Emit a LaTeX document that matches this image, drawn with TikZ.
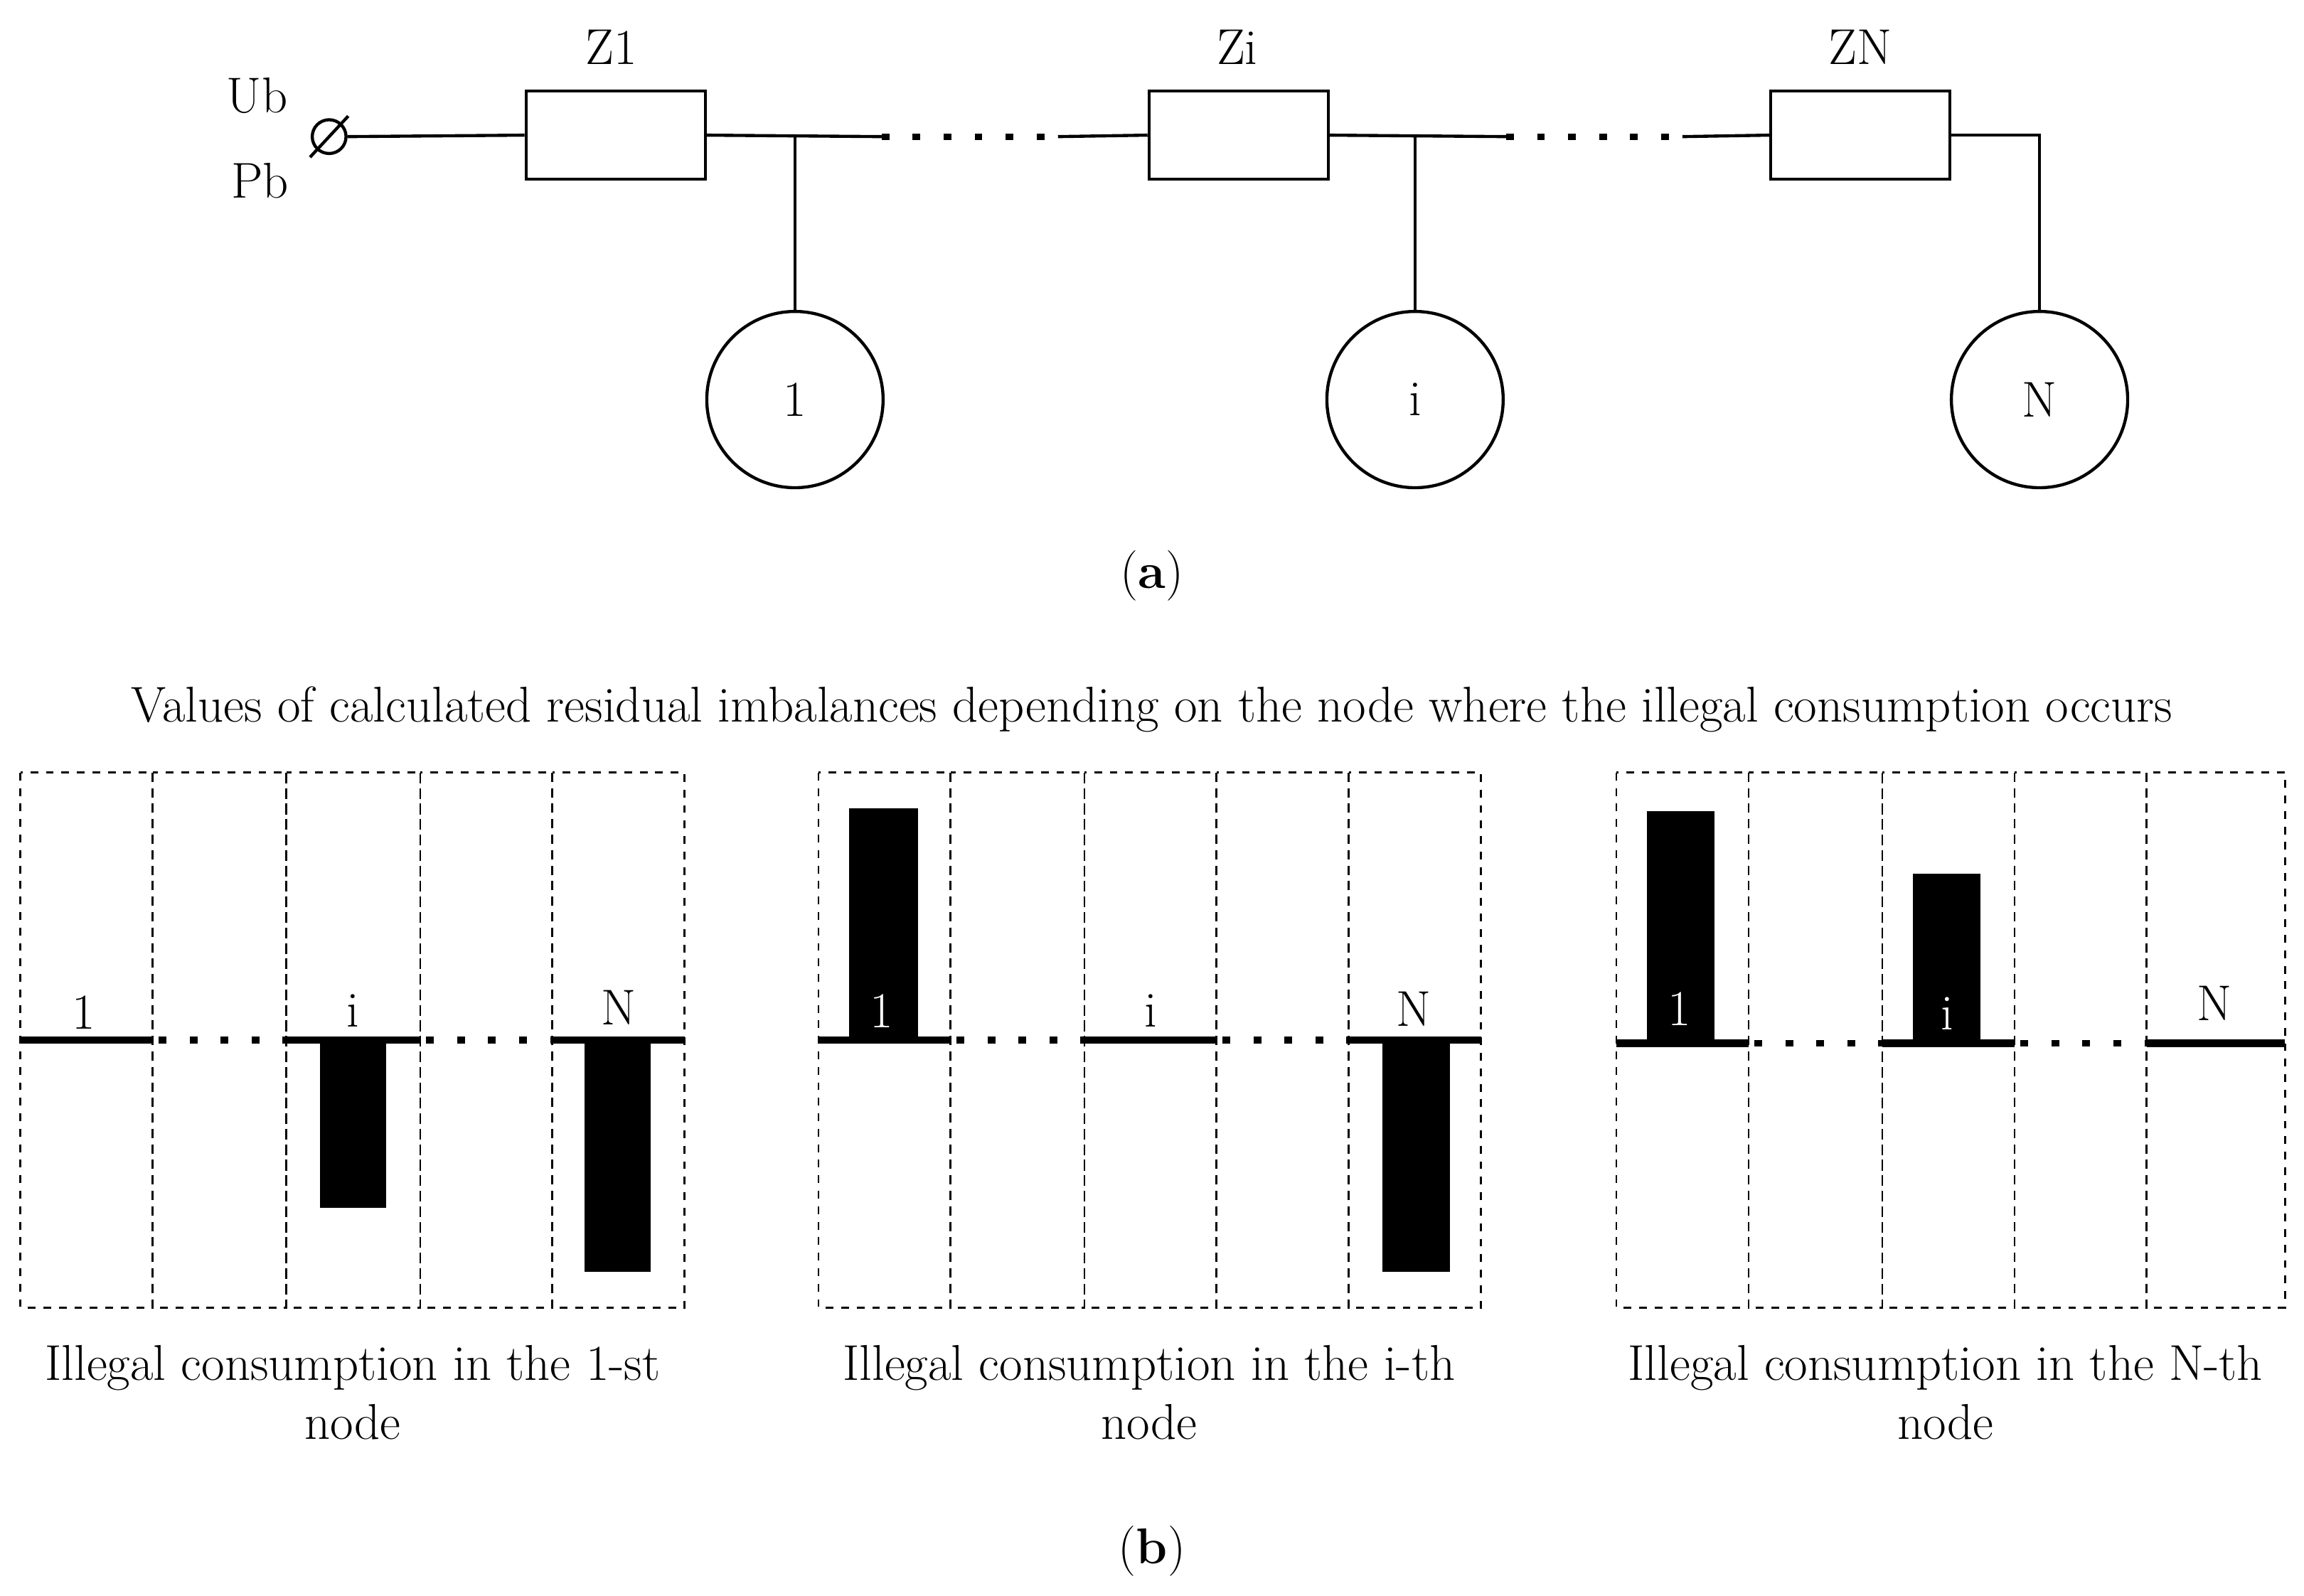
\documentclass[tikz,border=0pt]{standalone}
\begin{document}
\begin{tikzpicture}[x=0.02cm,y=-0.02cm,
  txt/.style={font=\fontsize{19.5}{23}\selectfont, inner sep=0pt},
  res/.style={draw, line width=1.2pt, minimum width=2.44cm, minimum height=1.2cm, inner sep=0pt},
  nd/.style={draw, circle, line width=1.2pt, minimum size=2.4cm, inner sep=0pt, font=\fontsize{19.5}{23}\selectfont},
  wire/.style={line width=1.2pt},
  dots/.style={line width=2.5pt, dash pattern=on 3pt off 9pt},
  cell/.style={draw, dashed, line width=0.8pt},
  base/.style={line width=3pt},
  bar/.style={fill=black}]
\useasboundingbox (0,0) rectangle (1568,1086);
% ---- (a) ----
\node[txt] (ub) at (175,65) {Ub};
\node[txt] (pb) at (177,123) {Pb};
\node[draw, circle, line width=1.2pt, minimum size=0.46cm, inner sep=0pt] (t) at (224,93) {};
\draw[wire] (211,107) -- (237,79);
\node[res] (z1) at (419,92) {};
\node[res] (zi) at (843,92) {};
\node[res] (zn) at (1266,92) {};
\node[txt] at (416,32) {Z1};
\node[txt] at (842,32) {Zi};
\node[txt] at (1266,32) {ZN};
\node[nd] (n1) at (541,272) {1};
\node[nd] (ni) at (963,272) {i};
\node[nd] (nn) at (1388,272) {N};
\coordinate (a1) at (541,93); \coordinate (a2) at (600,93);
\coordinate (b1) at (720,93); \coordinate (b2) at (782,93);
\coordinate (c1) at (963,93); \coordinate (c2) at (1025,93);
\coordinate (d1) at (1145,93);
\coordinate (e1) at (1388,92);
\draw[wire] (t.east) -- (z1.west);
\draw[wire] (z1.east) -- (a2);
\draw[wire] (a1) -- (n1.north);
\draw[dots] (a2) -- (b1);
\draw[wire] (b1) -- (zi.west);
\draw[wire] (zi.east) -- (c2);
\draw[wire] (c1) -- (ni.north);
\draw[dots] (c2) -- (d1);
\draw[wire] (d1) -- (zn.west);
\draw[wire] (zn.east) -- (e1) -- (nn.north);
\node[txt] at (784,392) {(\textbf{a})};
% ---- (b) ----
\node[txt] at (784,483) {Values of calculated residual imbalances depending on the node where the illegal consumption occurs};
% panel 1
\foreach \a/\b in {14/104,104/195,195/286,286/376,376/466} \draw[cell] (\a,526) rectangle (\b,890);
\draw[base] (14,708) -- (104,708); \draw[base] (195,708) -- (286,708); \draw[base] (376,708) -- (466,708);
\draw[dots] (108,708) -- (195,708); \draw[dots] (290,708) -- (376,708);
\fill[bar] (218,708) rectangle (263,822);
\fill[bar] (398,708) rectangle (443,866);
\node[txt] at (57,689) {1}; \node[txt] at (240,688) {i}; \node[txt] at (421,686) {N};
\node[txt] at (240,931) {Illegal consumption in the 1-st};
\node[txt] at (240,968) {node};
% panel 2
\foreach \a/\b in {557/647,647/738,738/828,828/918,918/1008} \draw[cell] (\a,526) rectangle (\b,890);
\draw[base] (557,708) -- (647,708); \draw[base] (738,708) -- (828,708); \draw[base] (918,708) -- (1008,708);
\draw[dots] (651,708) -- (738,708); \draw[dots] (832,708) -- (918,708);
\fill[bar] (578,550) rectangle (625,708);
\fill[bar] (941,708) rectangle (987,866);
\node[txt, text=white] at (600,688) {1}; \node[txt] at (783,688) {i}; \node[txt] at (962,687) {N};
\node[txt] at (782,931) {Illegal consumption in the i-th};
\node[txt] at (782,968) {node};
% panel 3
\foreach \a/\b in {1100/1190,1190/1281,1281/1371,1371/1461,1461/1555} \draw[cell] (\a,526) rectangle (\b,890);
\draw[base] (1100,710) -- (1190,710); \draw[base] (1281,710) -- (1371,710); \draw[base] (1461,710) -- (1555,710);
\draw[dots] (1194,710) -- (1281,710); \draw[dots] (1375,710) -- (1461,710);
\fill[bar] (1121,552) rectangle (1167,710);
\fill[bar] (1302,595) rectangle (1348,710);
\node[txt, text=white] at (1143,687) {1}; \node[txt, text=white] at (1325,690) {i}; \node[txt] at (1507,683) {N};
\node[txt] at (1324,931) {Illegal consumption in the N-th};
\node[txt] at (1324,968) {node};
\node[txt] at (784,1056) {(\textbf{b})};
\end{tikzpicture}
\end{document}
